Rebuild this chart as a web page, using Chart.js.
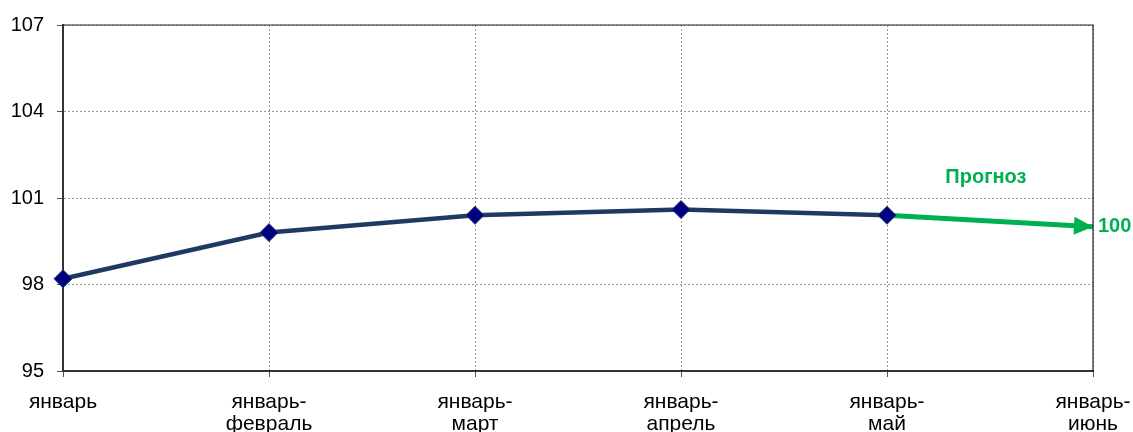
<!DOCTYPE html>
<html><head><meta charset="utf-8">
<script src="https://cdn.jsdelivr.net/npm/chart.js@4.4.0/dist/chart.umd.min.js"></script>
<style>html,body{margin:0;padding:0;background:#fff}#wrap{width:1133px;height:432px}</style>
</head><body><div id="wrap"><canvas id="c" width="1133" height="432"></canvas></div>
<script>
const categories = [["январь"], ["январь-", "февраль"], ["январь-", "март"], ["январь-", "апрель"], ["январь-", "май"], ["январь-", "июнь"]];
const actualValues = [98.2, 99.8, 100.4, 100.6, 100.4, null];
const forecastValues = [null, null, null, null, 100.4, 100];
const forecastTitle = "Прогноз";
const forecastLabel = "100";
const yMin = 95, yMax = 107, yStep = 3;

const FONT = "'Liberation Sans', Arial, sans-serif";
const GREEN = '#00B050';

const extras = {
  id: 'extras',
  afterDatasetsDraw(chart) {
    const {ctx, chartArea: a, scales: {x, y}} = chart;
    ctx.save();
    ctx.strokeStyle = '#222'; ctx.lineWidth = 1.2;
    ctx.beginPath();
    ctx.moveTo(a.left, a.top); ctx.lineTo(a.right, a.top); ctx.lineTo(a.right, a.bottom);
    ctx.stroke();
    const i1 = 4, i2 = 5;
    const x1 = x.getPixelForValue(i1), y1 = y.getPixelForValue(forecastValues[i1]);
    const x2 = x.getPixelForValue(i2), y2 = y.getPixelForValue(forecastValues[i2]);
    const ang = Math.atan2(y2 - y1, x2 - x1);
    const L = 19, W = 9;
    ctx.fillStyle = GREEN;
    ctx.beginPath();
    ctx.moveTo(x2, y2);
    ctx.lineTo(x2 - L*Math.cos(ang) + W*Math.sin(ang), y2 - L*Math.sin(ang) - W*Math.cos(ang));
    ctx.lineTo(x2 - L*Math.cos(ang) - W*Math.sin(ang), y2 - L*Math.sin(ang) + W*Math.cos(ang));
    ctx.closePath(); ctx.fill();
    ctx.font = 'bold 20px ' + FONT;
    ctx.textAlign = 'center'; ctx.textBaseline = 'middle';
    ctx.fillText(forecastTitle, x.getPixelForValue(4.48), y.getPixelForValue(101.72));
    ctx.font = 'bold 20px ' + FONT;
    ctx.textAlign = 'left';
    ctx.fillText(forecastLabel, x2 + 5, y2);
    ctx.restore();
  }
};

new Chart(document.getElementById('c'), {
  type: 'line',
  data: {
    labels: categories,
    datasets: [
      {
        data: actualValues,
        borderColor: '#1F3A62',
        borderWidth: 4.5,
        pointStyle: 'rectRot',
        pointRadius: 9,
        pointBackgroundColor: '#000080',
        pointBorderColor: '#1F3A62',
        pointBorderWidth: 1,
        tension: 0
      },
      {
        data: forecastValues,
        borderColor: GREEN,
        borderWidth: 5,
        pointRadius: 0,
        tension: 0
      }
    ]
  },
  options: {
    responsive: false,
    animation: false,
    devicePixelRatio: 1,
    layout: {padding: {left: 0, right: 40, top: 24, bottom: 0}},
    plugins: {legend: {display: false}, tooltip: {enabled: false}},
    scales: {
      x: {
        offset: false,
        grid: {color: '#9a9a9a', tickLength: 6, tickColor: '#555'},
        border: {color: '#333', width: 2, dash: [2, 2]},
        ticks: {color: '#000', font: {family: FONT, size: 21, lineHeight: 1.05}, padding: 14, maxRotation: 0, autoSkip: false},
        afterFit(s) { s.height = 61; s.paddingLeft = 0; s.paddingRight = 0; }
      },
      y: {
        min: yMin, max: yMax,
        grid: {color: '#9a9a9a', tickLength: 6, tickColor: '#555'},
        border: {color: '#333', width: 2, dash: [2, 2]},
        ticks: {stepSize: yStep, color: '#000', font: {family: FONT, size: 20}, padding: 13},
        afterFit(s) { s.width = 63; }
      }
    }
  },
  plugins: [extras]
});
</script></body></html>
